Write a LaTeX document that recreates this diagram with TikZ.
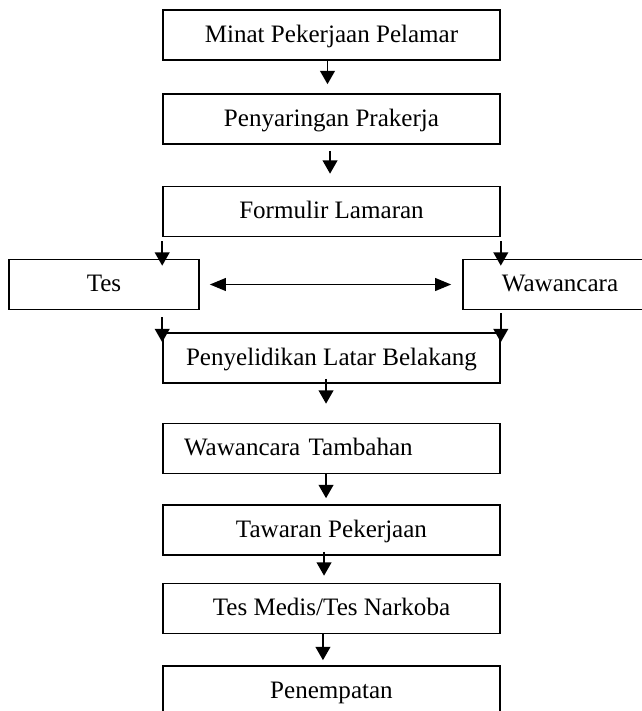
\documentclass[tikz,border=0pt]{standalone}
\usepackage{fontspec}
\setmainfont{Liberation Serif}
\usetikzlibrary{arrows.meta}
\begin{document}
\begin{tikzpicture}[x=0.75pt,y=-0.75pt,
    >={Triangle[length=10pt,width=11pt]},
    box/.style={draw,line width=1.2pt,minimum width=252.75pt,minimum height=37.5pt,
      inner sep=0pt,text height=14.5pt,text depth=3.5pt,font=\fontsize{18.8}{22}\selectfont},
    sidebox/.style={box,minimum width=142.5pt}]
  \path[use as bounding box,clip] (0,0) rectangle (642,711);
  \draw
    (331.5,35) node[box] (minat){Minat Pekerjaan Pelamar}
    (331.5,119) node[box] (saring){Penyaringan Prakerja}
    (331.5,211.5) node[box] (formulir){Formulir Lamaran}
    (104,284.5) node[sidebox] (tes){Tes}
    (560,284.5) node[sidebox,minimum width=145.5pt] (waw){Wawancara}
    (331.5,358) node[box] (selidik){Penyelidikan Latar Belakang}
    (331.5,448.5) node[box,text width=221.25pt,align=left,inner xsep=15.75pt] (tambahan){Wawancara Tambahan}
    (331.5,530) node[box] (tawaran){Tawaran Pekerjaan}
    (331.5,608.5) node[box] (medis){Tes Medis/Tes Narkoba}
    (331.5,691) node[box] (tempat){Penempatan};
  \begin{scope}[->,line width=1.4pt]
    \draw[shorten >=6.75pt] ([xshift=-3pt]minat.south) to ([xshift=-3pt]saring.north);
    \draw[shorten <=4.5pt,shorten >=9pt] ([xshift=-1.1pt]saring.south) to ([xshift=-1.1pt]formulir.north);
    \draw[shorten <=3pt,shorten >=-5.25pt] (formulir.south west) to (formulir.south west |- tes.north);
    \draw[shorten <=3pt,shorten >=-5.25pt] (formulir.south east) to (formulir.south east |- waw.north);
    \draw[{Triangle[length=12pt,width=9.5pt]}-{Triangle[length=12pt,width=9.5pt]},
      shorten <=7.5pt,shorten >=8.25pt] (tes) to (waw);
    \draw[shorten <=5.25pt,shorten >=-7.5pt] (selidik.north west |- tes.south) to (selidik.north west);
    \draw[shorten <=2.25pt,shorten >=-7.5pt] (selidik.north east |- waw.south) to (selidik.north east);
    \draw[shorten <=-3.75pt,shorten >=14.25pt] ([xshift=-4.1pt]selidik.south) to ([xshift=-4.1pt]tambahan.north);
    \draw[shorten >=4.5pt] ([xshift=-4.1pt]tambahan.south) to ([xshift=-4.1pt]tawaran.north);
    \draw[shorten <=-3pt,shorten >=5.25pt] ([xshift=-5.6pt]tawaran.south) to ([xshift=-5.6pt]medis.north);
    \draw[shorten >=3.75pt] ([xshift=-6.4pt]medis.south) to ([xshift=-6.4pt]tempat.north);
  \end{scope}
\end{tikzpicture}
\end{document}
